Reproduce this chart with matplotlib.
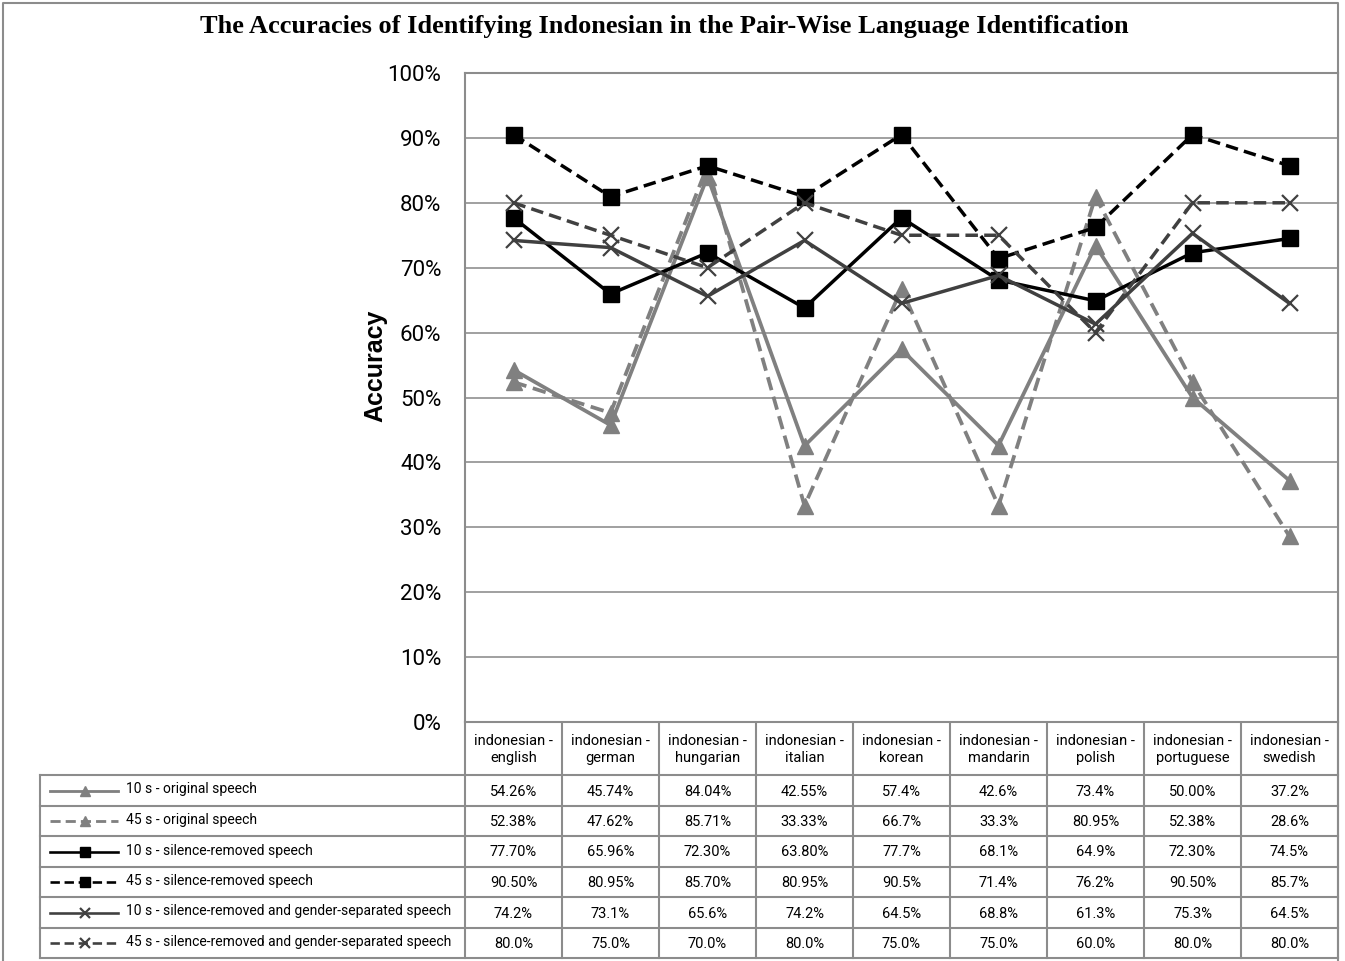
import matplotlib
matplotlib.use("Agg")
import matplotlib.pyplot as plt
import numpy as np

# data: table strings as shown in the chart, values derived from them
pairs = ["english", "german", "hungarian", "italian", "korean",
         "mandarin", "polish", "portuguese", "swedish"]
categories = ["indonesian -\n" + p for p in pairs]

series_names = [
    "10 s - original speech",
    "45 s - original speech",
    "10 s - silence-removed speech",
    "45 s - silence-removed speech",
    "10 s - silence-removed and gender-separated speech",
    "45 s - silence-removed and gender-separated speech",
]

orig_10 = ["54.26%", "45.74%", "84.04%", "42.55%", "57.4%", "42.6%", "73.4%", "50.00%", "37.2%"]
orig_45 = ["52.38%", "47.62%", "85.71%", "33.33%", "66.7%", "33.3%", "80.95%", "52.38%", "28.6%"]
silrem_10 = ["77.70%", "65.96%", "72.30%", "63.80%", "77.7%", "68.1%", "64.9%", "72.30%", "74.5%"]
silrem_45 = ["90.50%", "80.95%", "85.70%", "80.95%", "90.5%", "71.4%", "76.2%", "90.50%", "85.7%"]
gender_10 = ["74.2%", "73.1%", "65.6%", "74.2%", "64.5%", "68.8%", "61.3%", "75.3%", "64.5%"]
gender_45 = ["80.0%", "75.0%", "70.0%", "80.0%", "75.0%", "75.0%", "60.0%", "80.0%", "80.0%"]

table_rows = [orig_10, orig_45, silrem_10, silrem_45, gender_10, gender_45]

yticks = np.arange(0, 101, 10)

GRAY = "#808080"
DARK = "#404040"
DASH = (0, (3.6, 1.8))
styles = [
    dict(color=GRAY, ls="-", marker="^", ms=11, lw=2.7),
    dict(color=GRAY, ls=DASH, marker="^", ms=11, lw=2.7),
    dict(color="black", ls="-", marker="s", ms=12, lw=2.5),
    dict(color="black", ls=DASH, marker="s", ms=12, lw=2.5),
    dict(color=DARK, ls="-", marker="x", ms=12, lw=2.5, mew=1.6),
    dict(color=DARK, ls=DASH, marker="x", ms=12, lw=2.5, mew=1.6),
]

NARROW = ["Roboto", "Liberation Sans", "DejaVu Sans"]
W, H = 1345, 961
LINE_C = "#8c8c8c"

fig = plt.figure(figsize=(W / 100, H / 100), dpi=100)

# background axes in pixel coordinates for the frame and the data table
tab = fig.add_axes([0, 0, 1, 1])
tab.set_xlim(0, W)
tab.set_ylim(H, 0)
tab.axis("off")
tab.patch.set_alpha(0)

# outer frame
tab.plot([3, 3, 1338, 1338], [H, 3, 3, H], color=LINE_C, lw=1.5)

# plot area
x0, x1, ytop, ybot = 465, 1338, 73, 722
ax = fig.add_axes([x0 / W, 1 - ybot / H, (x1 - x0) / W, (ybot - ytop) / H])
n = len(categories)
xs = np.arange(n)
for name, row, st in zip(series_names, table_rows, styles):
    vals = [float(s.rstrip("%")) for s in row]
    ax.plot(xs, vals, label=name, clip_on=False, **st)

ax.set_xlim(-0.5, n - 0.5)
ax.set_ylim(0, 100)
ax.set_yticks(yticks)
ax.set_yticklabels([f"{v}%" for v in yticks], family=NARROW, fontsize=16)
ax.tick_params(axis="y", length=0, pad=17)
ax.set_xticks([])
ax.grid(axis="y", color="#a0a0a0", lw=1.4)
ax.set_axisbelow(True)
for side in ["left", "right", "top", "bottom"]:
    ax.spines[side].set_color(LINE_C)
    ax.spines[side].set_linewidth(1.5)

fig.text(375 / W, 1 - 366 / H, "Accuracy", rotation=90, family=["Liberation Sans"],
         fontsize=18, fontweight="bold", ha="center", va="center")

fig.text(664 / W, 1 - 27 / H, "The Accuracies of Identifying Indonesian in the Pair-Wise Language Identification",
         family=["Liberation Serif"], fontsize=19, fontweight="bold", ha="center", va="center")

# data table
col_w = (x1 - x0) / n
row_tops = [775, 806, 836, 867, 897, 928, 958]
header_top = 722
for k in range(n + 1):
    tab.plot([x0 + k * col_w] * 2, [header_top, row_tops[-1]], color=LINE_C, lw=1.5)
tab.plot([40, 40], [row_tops[0], row_tops[-1]], color=LINE_C, lw=1.5)
for y in row_tops:
    tab.plot([40, x1], [y, y], color=LINE_C, lw=1.5)

for k, cat in enumerate(categories):
    tab.text(x0 + (k + 0.5) * col_w, (header_top + row_tops[0]) / 2 + 1, cat,
             ha="center", va="center", family=NARROW, fontsize=10.5, linespacing=1.35)

for r, (name, row, st) in enumerate(zip(series_names, table_rows, styles)):
    yc = (row_tops[r] + row_tops[r + 1]) / 2
    for k, s in enumerate(row):
        tab.text(x0 + (k + 0.5) * col_w, yc + 1, s, ha="center", va="center",
                 family=NARROW, fontsize=10.5)
    leg = dict(st)
    ms = leg.pop("ms")
    mk = leg.pop("marker")
    mew = leg.pop("mew", None)
    lw = leg.pop("lw")
    tab.plot([50, 118], [yc, yc], lw=lw * 0.75, **leg)
    tab.plot([85], [yc], marker=mk, ms=ms * 0.65, color=st["color"], ls="none",
             mew=(mew if mew else 1))
    tab.text(126, yc - 1, name, ha="left", va="center", family=NARROW, fontsize=10)

fig.savefig("out.png", dpi=100)
